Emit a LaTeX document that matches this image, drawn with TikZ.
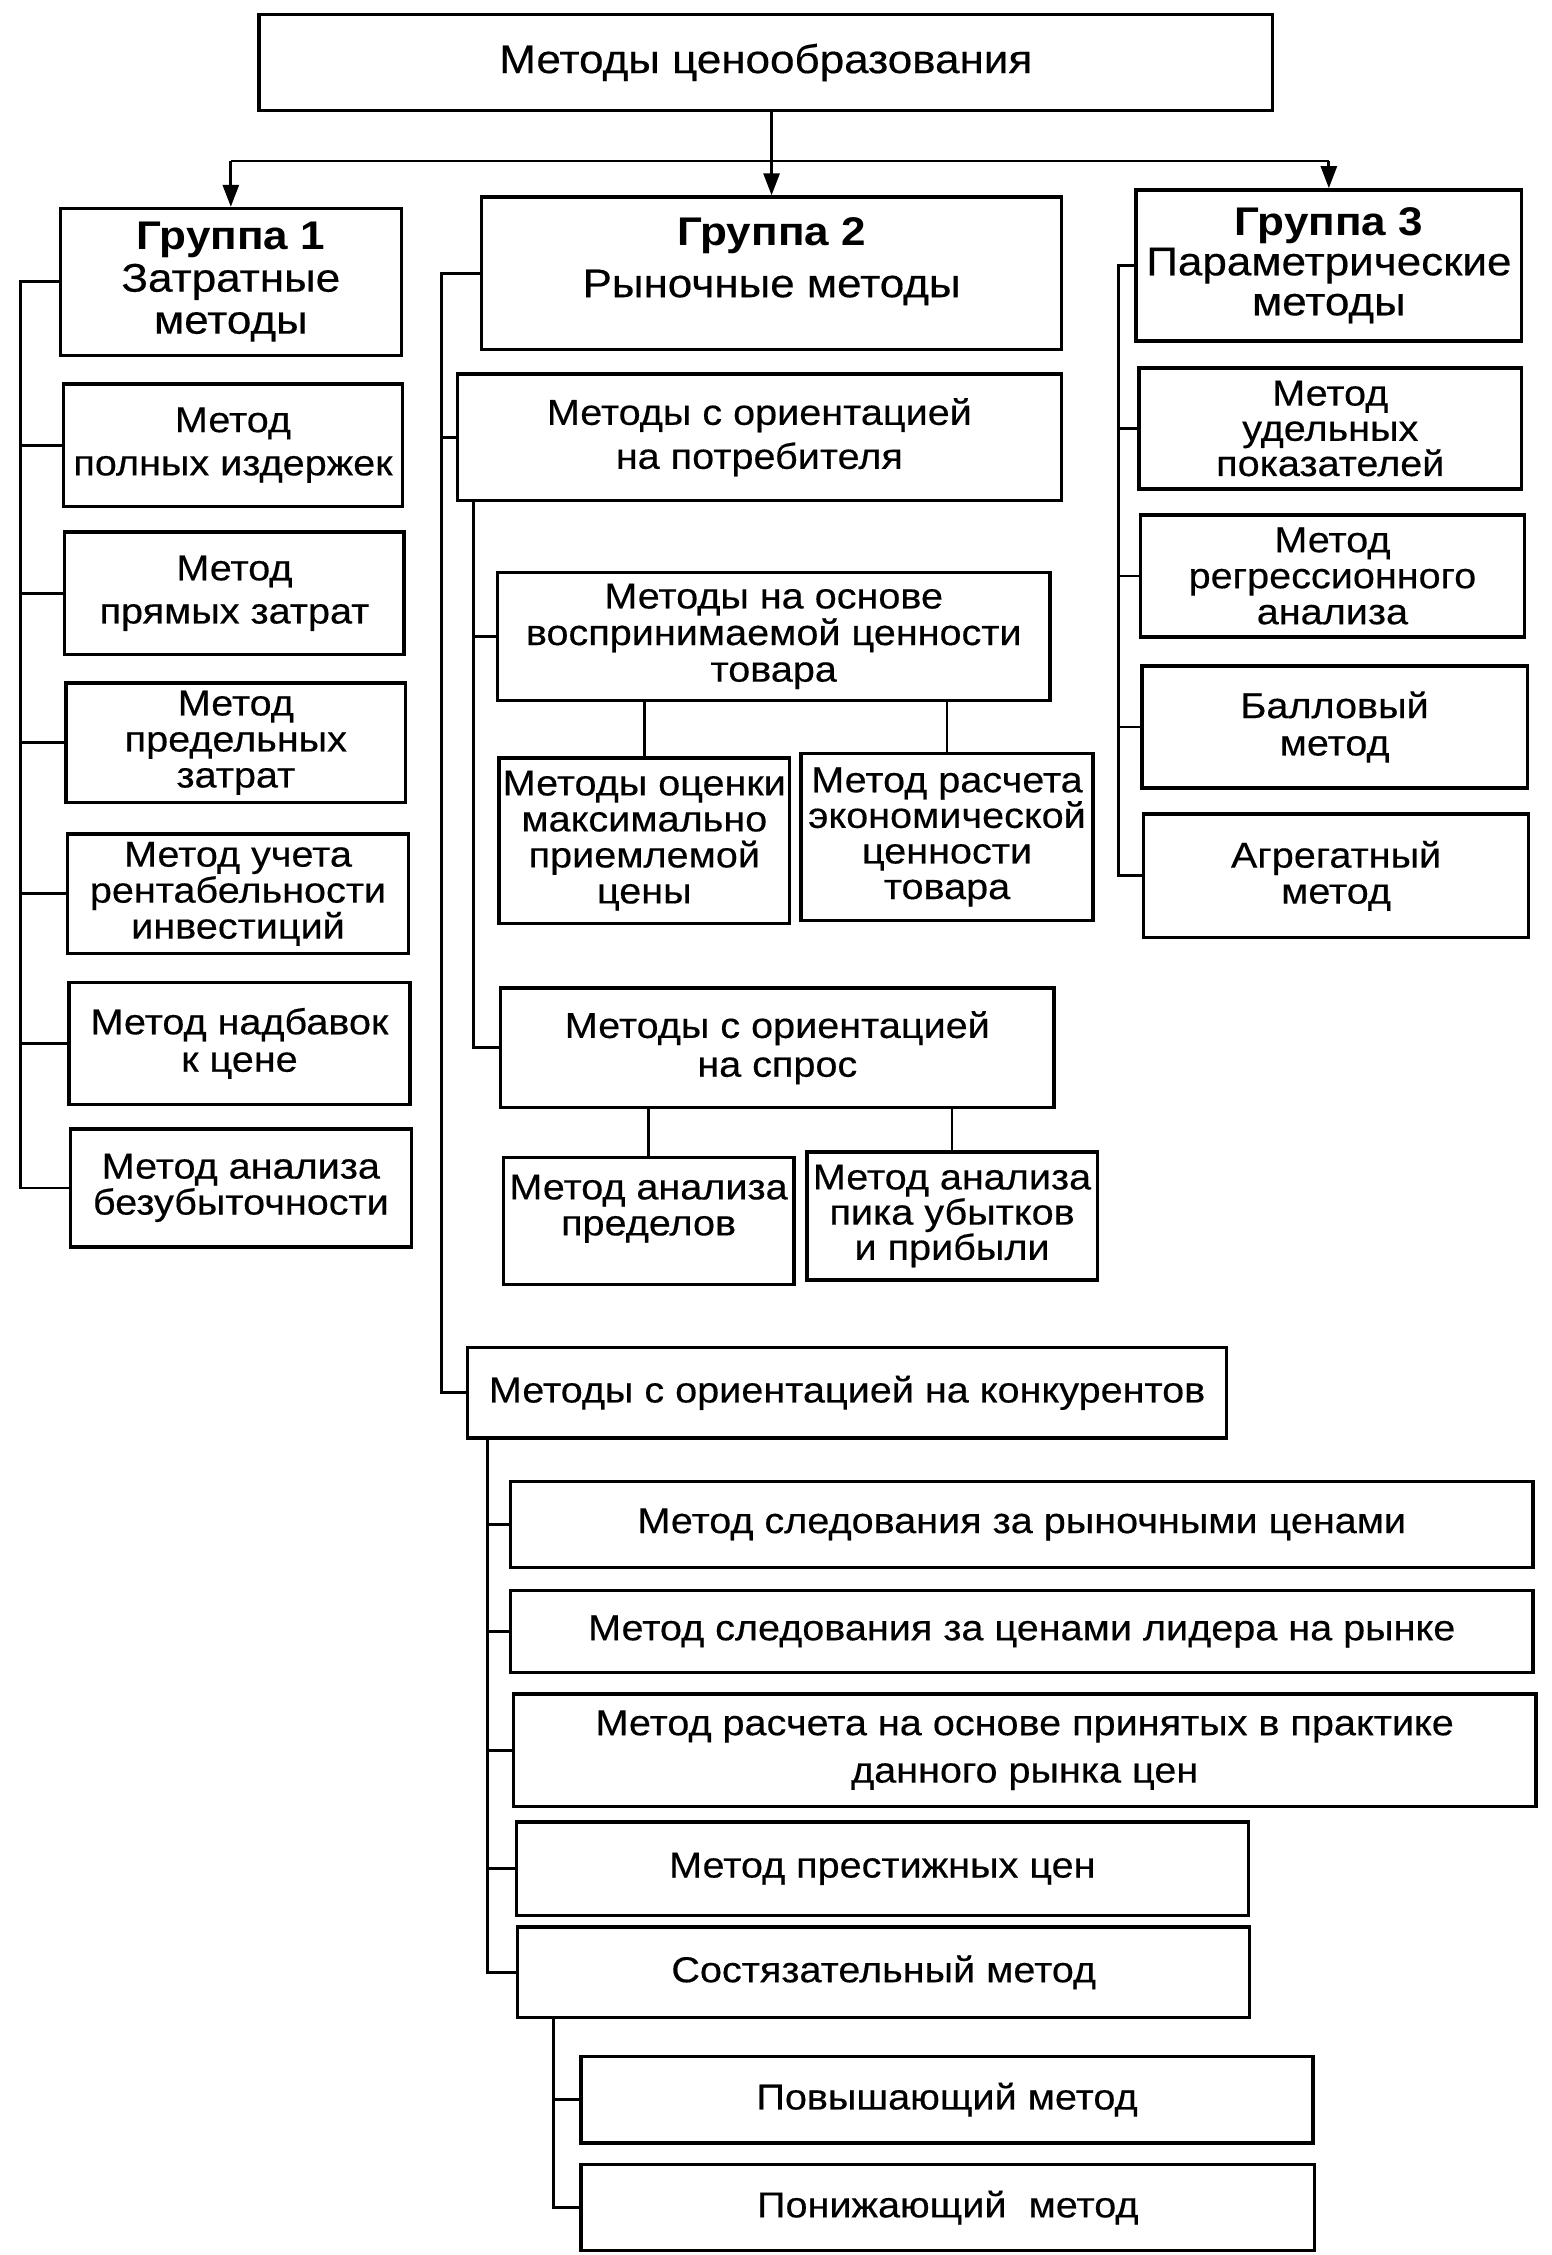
\documentclass[tikz,border=0pt]{standalone}
\usepackage{fontspec}
\setmainfont[FakeStretch=1.1,UprightFeatures={FakeBold=0.4}]{Liberation Sans}
\usetikzlibrary{arrows.meta}
\newcommand\bxnode[6]{\node[bx,#2,minimum width={(#5-#3)*0.7192pt},minimum height={(#6-#4)*0.7192pt}] (#1) at ({(#3+#5)/2},{(#4+#6)/2})}
\begin{document}
\begin{tikzpicture}[x=0.7192pt,y=-0.7192pt,
  bx/.style={draw, line width=1.7pt, inner sep=0pt, align=center},
  fb/.style={font=\fontsize{18}{#1}\selectfont},
  fh/.style={font=\fontsize{20}{#1}\selectfont},
  ln/.style={line width=1.4pt},
  arr/.style={ln, -{Triangle[length=11pt,width=8pt]}}]
\useasboundingbox (0,0) rectangle (1079,1568);

% top
\bxnode{top}{fh=22}{180}{10}{885}{77} {Методы ценообразования};
% groups
\bxnode{g1}{fh=21}{42}{145}{279}{247} {\textbf{Группа 1}\\Затратные\\методы};
\bxnode{g2}{fh=26}{335}{137}{738}{243} {\textbf{Группа 2}\\Рыночные методы\\[-10pt]\mbox{}};
\bxnode{g3}{fh=20}{790}{132}{1058}{237} {\textbf{Группа 3}\\Параметрические\\методы};

% group 1 children
\bxnode{m11}{fb=21.6}{44}{267}{280}{352} {Метод\\полных издержек};
\bxnode{m12}{fb=21.6}{45}{370}{281}{455} {Метод\\прямых затрат};
\bxnode{m13}{fb=18}{46}{475}{282}{558} {Метод\\предельных\\затрат};
\bxnode{m14}{fb=18}{47}{580}{284}{663} {Метод учета\\рентабельности\\инвестиций};
\bxnode{m15}{fb=18.7}{48}{683}{285}{768} {Метод надбавок\\к цене};
\bxnode{m16}{fb=18}{49}{785}{286}{867} {Метод анализа\\безубыточности};

% group 2 children
\bxnode{potr}{fb=22}{318}{260}{738}{348} {Методы с ориентацией\\на потребителя};
\bxnode{vosp}{fb=18.3}{346}{398}{730}{487} {Методы на основе\\воспринимаемой ценности\\товара};
\bxnode{ocen}{fb=18}{347}{527}{549}{642} {Методы оценки\\максимально\\приемлемой\\цены};
\bxnode{ras}{fb=17.8}{557}{524}{760}{640} {Метод расчета\\экономической\\ценности\\товара};
\bxnode{spros}{fb=19.4}{348}{687}{733}{770} {Методы с ориентацией\\на спрос};
\bxnode{pred}{fb=18}{350}{805}{552}{893} {Метод анализа\\пределов\\[-2pt]\mbox{}};
\bxnode{pik}{fb=17.6}{561}{801}{763}{890} {Метод анализа\\пика убытков\\и прибыли};
\bxnode{konk}{fb=18}{325}{937}{853}{1000} {Методы с ориентацией на конкурентов};
\bxnode{k1}{fb=18}{355}{1030}{1066}{1090} {Метод следования за рыночными ценами};
\bxnode{k2}{fb=18}{355}{1106}{1066}{1163} {Метод следования за ценами лидера на рынке};
\bxnode{k3}{fb=23.7}{357}{1178}{1068}{1256} {Метод расчета на основе принятых в практике\\данного рынка цен};
\bxnode{k4}{fb=18}{359}{1267}{868}{1332} {Метод престижных цен};
\bxnode{k5}{fb=18}{360}{1340}{869}{1403} {Состязательный метод};
\bxnode{s1}{fb=18}{404}{1430}{913}{1490} {Повышающий метод};
\bxnode{s2}{fb=18}{404}{1505}{914}{1565} {Понижающий\ \ метод};

% group 3 children
\bxnode{udel}{fb=17.6}{792}{256}{1058}{340} {Метод\\удельных\\показателей};
\bxnode{regr}{fb=18}{793}{358}{1060}{443} {Метод\\регрессионного\\анализа};
\bxnode{ball}{fb=18.7}{794}{463}{1062}{548} {Балловый\\метод};
\bxnode{agr}{fb=18}{795}{566}{1063}{652} {Агрегатный\\метод};

% top connectors
\coordinate (hb) at (537,112);
\draw[ln] (hb -| g1.north) -- (hb -| g3.north);
\draw[arr] (top.south -| g2.north) -- (g2.north);
\draw[arr] (hb -| g1.north) -- (g1.north);
\draw[arr] (hb -| g3.north) -- (g3.north);

% group 1 bus
\coordinate (b1) at (14,0);
\draw[ln] (g1.west) -- (b1 |- g1.west) |- (m16.west);
\foreach \n in {m11,m12,m13,m14,m15} \draw[ln] (b1 |- \n.west) -- (\n.west);

% group 2 bus
\coordinate (b2) at (307,0);
\draw[ln] (g2.west) -- (b2 |- g2.west) |- (konk.west);
\draw[ln] (b2 |- potr.west) -- (potr.west);
\coordinate (b2p) at (329,0);
\draw[ln] (potr.south -| b2p) |- (spros.west);
\draw[ln] (b2p |- vosp.west) -- (vosp.west);
\draw[ln] (vosp.south -| ocen.north) -- (ocen.north);
\draw[ln] (vosp.south -| ras.north) -- (ras.north);
\draw[ln] (spros.south -| pred.north) -- (pred.north);
\draw[ln] (spros.south -| pik.north) -- (pik.north);
\coordinate (b2k) at (339,0);
\draw[ln] (konk.south -| b2k) |- (k5.west);
\foreach \n in {k1,k2,k3,k4} \draw[ln] (b2k |- \n.west) -- (\n.west);
\coordinate (b2s) at (385,0);
\draw[ln] (k5.south -| b2s) |- (s2.west);
\draw[ln] (b2s |- s1.west) -- (s1.west);

% group 3 bus
\coordinate (b3) at (778,0);
\draw[ln] (g3.west) -- (b3 |- g3.west) |- (agr.west);
\foreach \n in {udel,regr,ball} \draw[ln] (b3 |- \n.west) -- (\n.west);
\end{tikzpicture}
\end{document}
